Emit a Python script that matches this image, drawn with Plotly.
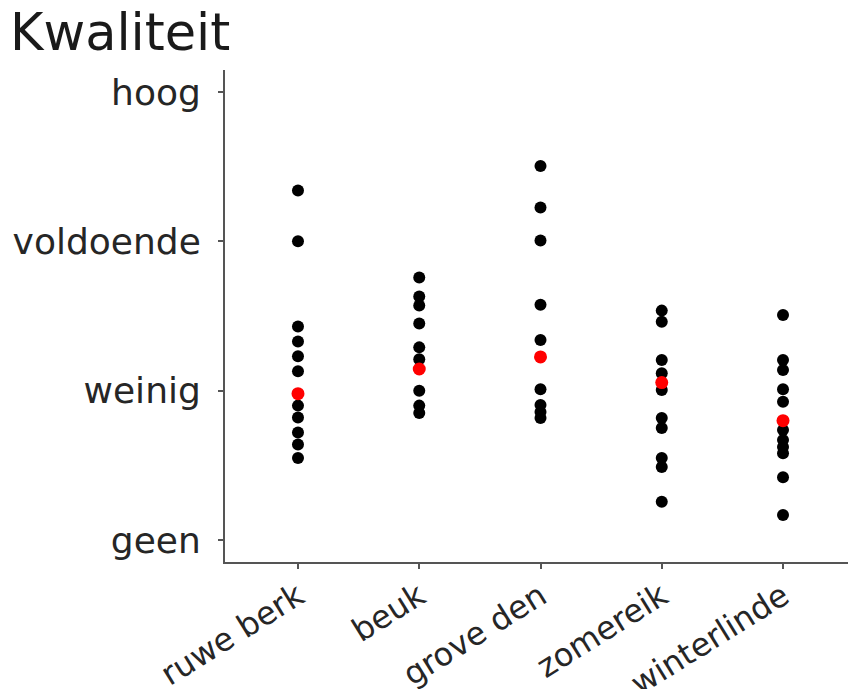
import plotly.graph_objects as go

categories = ["ruwe berk", "beuk", "grove den", "zomereik", "winterlinde"]
y_tick_vals = [0, 1, 2, 3]
y_tick_text = ["geen", "weinig", "voldoende", "hoog"]

ruwe_berk = [2.34, 2.00, 1.43, 1.33, 1.23, 1.13, 0.90, 0.82, 0.72, 0.64, 0.55]
beuk = [1.757, 1.63, 1.57, 1.45, 1.29, 1.21, 1.00, 0.90, 0.85]
grove_den = [2.505, 2.226, 2.005, 1.576, 1.34, 1.01, 0.904, 0.857, 0.817]
zomereik = [1.536, 1.462, 1.206, 1.117, 1.005, 0.817, 0.75, 0.549, 0.489, 0.257]
winterlinde = [1.507, 1.206, 1.139, 1.009, 0.926, 0.737, 0.67, 0.623, 0.581, 0.42, 0.167]
means = [0.98, 1.145, 1.226, 1.054, 0.799]

series = [ruwe_berk, beuk, grove_den, zomereik, winterlinde]

fig = go.Figure()
xs, ys = [], []
for cat, vals in zip(categories, series):
    xs += [cat] * len(vals)
    ys += vals
fig.add_trace(go.Scatter(x=xs, y=ys, mode="markers",
                         marker=dict(color="black", size=12), showlegend=False))
fig.add_trace(go.Scatter(x=categories, y=means, mode="markers",
                         marker=dict(color="red", size=13), showlegend=False))

fig.update_layout(
    width=848, height=689,
    margin=dict(l=225, r=0, t=70, b=127),
    paper_bgcolor="white", plot_bgcolor="white",
    font=dict(family="DejaVu Sans", color="#262626", size=32),
    title=dict(text="Kwaliteit", x=10/848, xanchor="left", xref="container",
               y=0.953, yanchor="middle", yref="container",
               font=dict(size=51, color="#1a1a1a", family="DejaVu Sans")),
)
fig.update_xaxes(
    type="category", range=[-0.602, 4.536], automargin=False,
    showline=True, linecolor="#555555", linewidth=2,
    ticks="outside", ticklen=5, tickcolor="#555555", tickwidth=1.5,
    tickangle=-32, showgrid=False, zeroline=False, ticklabelstandoff=-4,
    tickfont=dict(size=32),
)
fig.update_yaxes(
    range=[-0.147, 3.147], automargin=False,
    tickvals=y_tick_vals, ticktext=y_tick_text,
    showline=True, linecolor="#555555", linewidth=2,
    ticks="outside", ticklen=5, tickcolor="#555555", tickwidth=1.5,
    showgrid=False, zeroline=False, ticklabelstandoff=10,
    tickfont=dict(size=36),
)

fig.write_html(
    "out.html",
    config={"displayModeBar": False},
    post_script="document.body.style.margin='0';document.body.style.overflow='hidden';",
)
